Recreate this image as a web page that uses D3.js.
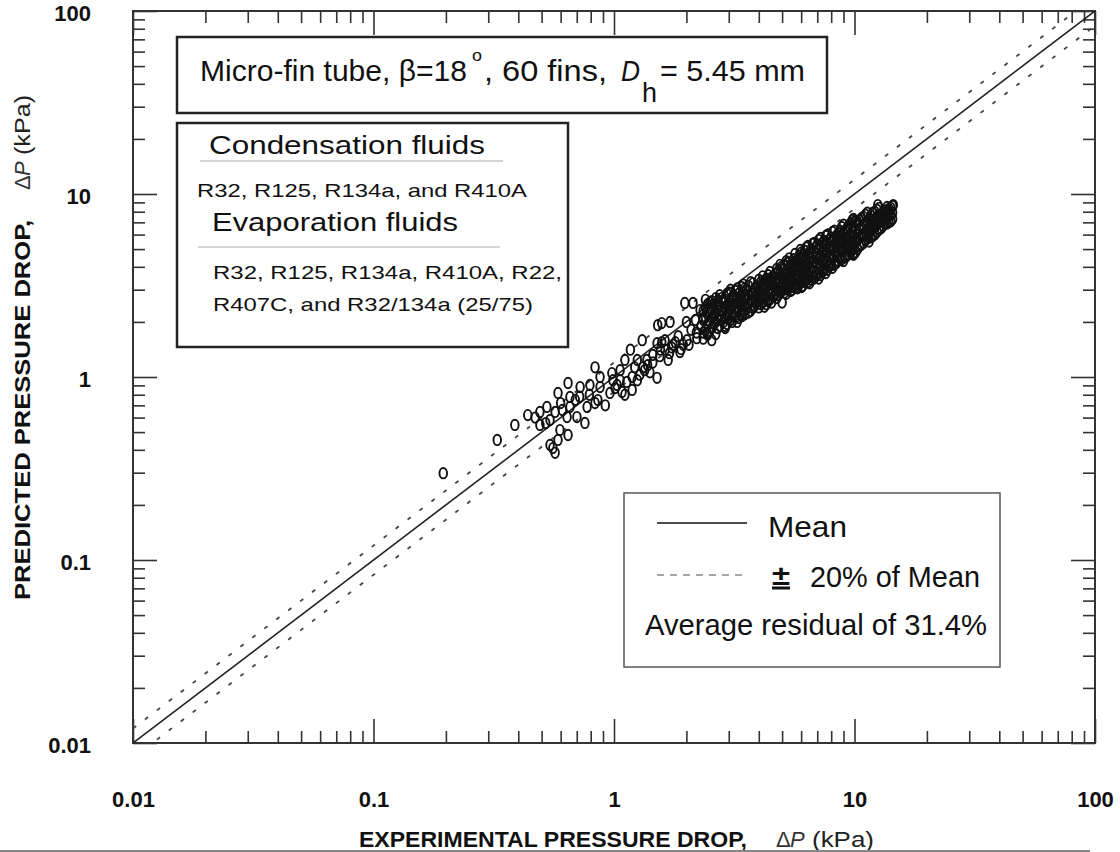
<!DOCTYPE html>
<html>
<head>
<meta charset="utf-8">
<script src="https://cdn.jsdelivr.net/npm/d3@7"></script>
<style>
  body { margin: 0; background: #fff; }
  svg { display: block; font-family: "Liberation Sans", Arial, Helvetica, sans-serif; }
</style>
</head>
<body>
<div id="chart"></div>
<script>
// axis values
const decadeTicks = [0.01, 0.1, 1, 10, 100];
const decadeLabels = ['0.01', '0.1', '1', '10', '100'];

// mean line and +/- 20% band
const meanLine = [[0.01, 0.01], [100, 100]];
const upperLine = [[0.01, 0.012], [100, 120]];
const lowerLine = [[0.01, 0.0083], [100, 83]];

// scattered points (experimental, predicted), kPa
const sparsePoints = [
  [0.195, 0.298], [0.327, 0.453], [0.387, 0.547], [0.438, 0.619], [0.492, 0.644], [0.526, 0.686],
  [0.569, 0.644], [0.492, 0.547], [0.542, 0.582], [0.585, 0.818], [0.644, 0.927], [0.656, 0.778],
  [0.656, 0.686], [0.723, 0.881], [0.794, 0.904], [0.875, 0.881], [0.834, 1.13], [0.638, 0.604],
  [0.701, 0.604], [0.757, 0.561], [0.773, 0.686], [0.834, 0.721], [0.857, 0.748], [0.596, 0.513],
  [0.644, 0.482], [0.542, 0.425], [0.569, 0.385], [0.585, 0.453], [0.557, 0.409], [0.962, 0.818],
  [1.03, 0.904], [1.08, 0.828], [1.13, 0.94], [1.19, 1.0], [1.28, 1.03], [1.32, 1.13],
  [1.17, 1.41], [1.31, 1.59], [1.51, 1.53], [1.52, 1.92], [1.71, 2.0], [1.58, 1.97],
  [1.51, 0.99], [1.41, 1.06], [1.37, 1.24], [1.63, 1.41], [1.68, 1.24], [1.88, 1.37],
  [1.76, 1.5], [1.58, 1.55], [2.01, 1.59], [2.21, 1.63], [2.13, 2.54], [1.97, 2.54],
  [2.28, 2.32], [2.44, 1.74], [2.55, 1.59], [2.9, 1.85], [1.25, 1.24], [1.11, 1.24],
  [1.06, 1.09], [0.99, 0.96], [1.01, 0.87], [1.06, 0.96], [1.11, 0.8], [1.19, 0.85],
  [1.25, 0.96], [1.34, 1.09], [1.45, 1.32], [1.56, 1.41], [1.63, 1.59], [1.74, 1.45],
  [1.85, 1.67], [1.94, 1.5], [2.09, 1.81], [2.18, 2.05], [2.34, 2.1], [2.4, 2.64],
  [0.875, 1.0], [0.79, 0.8], [0.92, 0.7], [0.69, 0.75], [0.61, 0.66], [5.0, 2.55],
  [12.5, 8.7], [14.5, 8.7], [9.8, 7.2], [9.9, 4.76],
  [1.45, 1.2], [1.55, 1.3], [1.7, 1.35], [1.8, 1.55], [1.9, 1.42], [2.05, 1.5],
  [2.2, 1.75], [2.3, 1.9], [2.0, 2.0], [1.22, 1.13], [1.38, 1.16], [0.98, 1.05],
  [0.72, 0.78], [0.6, 0.72], [0.47, 0.6], [0.52, 0.56]
];

// dense band: experimental values and the predicted values read at each of them
const bandExp = [2.35, 2.45, 2.55, 2.65, 2.75, 2.85, 2.95, 3.05, 3.15, 3.25, 3.35, 3.45, 3.55, 3.7,
  3.85, 4.0, 4.15, 4.3, 4.45, 4.6, 4.75, 4.9, 5.05, 5.2, 5.35, 5.5, 5.65, 5.8, 5.95, 6.1, 6.3,
  6.5, 6.7, 6.9, 7.1, 7.35, 7.6, 7.85, 8.1, 8.4, 8.7, 9.0, 9.3, 9.6, 9.9, 10.3, 10.7, 11.1,
  11.5, 11.9, 12.4, 12.9, 13.4, 13.9, 14.4];
const bandPred = [
  [1.62, 1.75, 2.05, 2.3], [1.7, 1.95, 2.2, 2.5], [1.85, 2.1, 2.35, 2.6], [1.72, 2.0, 2.25, 2.7],
  [1.9, 2.15, 2.45, 2.8], [2.0, 2.3, 2.55], [1.95, 2.2, 2.45, 2.85], [2.05, 2.35, 2.6, 3.0],
  [2.15, 2.5, 2.8], [2.0, 2.3, 2.65, 3.05], [2.2, 2.45, 2.75], [2.25, 2.55, 2.9, 3.2],
  [2.35, 2.7, 3.0], [2.3, 2.6, 2.85, 3.3], [2.45, 2.75, 3.05], [2.4, 2.65, 2.95, 3.4],
  [2.55, 2.85, 3.2, 3.55], [2.5, 2.8, 3.1, 3.45], [2.65, 3.0, 3.35, 3.75], [2.75, 3.15, 3.5],
  [2.7, 3.05, 3.4, 3.9], [2.9, 3.3, 3.7, 4.1], [3.0, 3.45, 3.85], [2.85, 3.2, 3.6, 4.3],
  [3.1, 3.5, 3.95, 4.45], [3.0, 3.35, 3.8, 4.2], [3.2, 3.65, 4.05, 4.7], [3.05, 3.45, 3.9, 4.4],
  [3.3, 3.75, 4.2, 4.95], [3.15, 3.6, 4.1, 4.6], [3.4, 3.9, 4.4, 5.1], [3.25, 3.7, 4.25, 4.8],
  [3.5, 4.0, 4.55, 5.35], [3.6, 4.15, 4.7, 5.1], [3.45, 3.9, 4.4, 5.0, 5.6], [3.75, 4.3, 4.85, 5.4],
  [3.7, 4.1, 4.6, 5.2, 5.9], [4.0, 4.5, 5.0, 5.6], [3.95, 4.4, 4.95, 5.5, 6.2], [4.2, 4.75, 5.3, 5.9],
  [4.45, 5.0, 5.6, 6.3], [4.3, 4.9, 5.45, 6.1, 6.8], [4.6, 5.2, 5.8, 6.5], [4.8, 5.4, 6.0, 6.9],
  [4.65, 5.3, 5.9, 6.6, 7.3], [5.0, 5.6, 6.2, 7.0], [5.3, 5.9, 6.5, 7.4], [5.6, 6.2, 6.9, 7.7],
  [5.5, 6.0, 6.6, 7.3], [5.9, 6.5, 7.1, 7.9], [6.2, 6.8, 7.5, 8.2], [6.5, 7.1, 7.7],
  [6.9, 7.5, 8.1], [7.0, 7.6, 8.3], [7.3, 7.9, 8.6]
];
// second pass through the band, between the columns above
const bandExp2 = [2.4, 2.5, 2.6, 2.7, 2.8, 2.9, 3.0, 3.1, 3.2, 3.3, 3.4, 3.5, 3.62, 3.78, 3.92,
  4.08, 4.22, 4.38, 4.52, 4.68, 4.82, 4.98, 5.12, 5.28, 5.42, 5.58, 5.72, 5.88, 6.02, 6.2, 6.4,
  6.6, 6.8, 7.0, 7.22, 7.48, 7.72, 7.98, 8.25, 8.55, 8.85, 9.15, 9.45, 9.75, 10.1, 10.5, 10.9,
  11.3, 11.7, 12.15, 12.65, 13.15, 13.65, 14.15];
const bandPred2 = [
  [1.8, 2.12, 2.4], [1.78, 2.02, 2.28, 2.55], [1.95, 2.2, 2.5], [1.85, 2.08, 2.38, 2.62],
  [2.05, 2.3, 2.7], [1.9, 2.12, 2.4, 2.65], [2.1, 2.28, 2.52, 2.9], [2.0, 2.22, 2.45, 2.72],
  [2.12, 2.4, 2.6, 2.95], [2.1, 2.38, 2.55, 2.85], [2.15, 2.35, 2.65, 3.1], [2.2, 2.45, 2.8, 3.05],
  [2.25, 2.5, 2.78, 3.15], [2.38, 2.65, 2.95, 3.25], [2.55, 2.85, 3.15], [2.5, 2.78, 3.05, 3.3],
  [2.42, 2.7, 2.98, 3.35], [2.6, 2.92, 3.25, 3.6], [2.55, 2.85, 3.2, 3.5], [2.85, 3.1, 3.3, 3.65],
  [2.8, 3.2, 3.5, 3.8], [2.95, 3.2, 3.6, 4.0], [2.9, 3.3, 3.65, 4.1], [3.0, 3.4, 3.75, 4.2],
  [2.95, 3.25, 3.7, 4.1], [3.1, 3.5, 3.9, 4.4], [3.1, 3.4, 3.85, 4.3], [3.2, 3.6, 4.05, 4.6],
  [3.1, 3.5, 3.95, 4.45, 4.8], [3.3, 3.75, 4.25, 4.9], [3.3, 3.65, 4.1, 4.6, 5.2],
  [3.4, 3.85, 4.4, 5.0], [3.45, 3.8, 4.3, 4.85, 5.4], [3.6, 4.05, 4.55, 5.3],
  [3.6, 4.1, 4.6, 5.2, 5.75], [3.85, 4.35, 4.95, 5.55], [3.85, 4.3, 4.8, 5.4, 6.0],
  [4.1, 4.6, 5.15, 5.8], [4.1, 4.55, 5.1, 5.7, 6.3], [4.3, 4.9, 5.5, 6.1],
  [4.4, 4.9, 5.3, 5.9, 6.6], [4.5, 5.05, 5.65, 6.3], [4.7, 5.3, 5.9, 6.7], [4.9, 5.5, 6.2, 7.0],
  [4.8, 5.4, 5.75, 6.4, 7.1], [5.2, 5.8, 6.4, 7.2], [5.4, 6.0, 6.7, 7.5], [5.7, 6.4, 7.0, 7.9],
  [5.8, 6.3, 6.9, 7.6], [6.0, 6.6, 7.3, 8.0], [6.4, 7.0, 7.6, 8.4], [6.7, 7.3, 7.9],
  [6.9, 7.4, 8.0, 8.5], [7.1, 7.7, 8.4]
];

// text blocks
const condensationFluids = ['R32, R125, R134a, and R410A'];
const evaporationFluids = ['R32, R125, R134a, R410A, R22,', 'R407C, and R32/134a (25/75)'];
const legendLabels = ['Mean', '20% of Mean', 'Average residual of 31.4%'];

// layout
const W = 1120, H = 852;
const plot = {l: 133, r: 1095, t: 11, b: 743};

const svg = d3.select('#chart').append('svg')
  .attr('width', W)
  .attr('height', H);

const x = d3.scaleLog().domain([0.01, 100]).range([plot.l, plot.r]);
const y = d3.scaleLog().domain([0.01, 100]).range([plot.b, plot.t]);

const minorTicks = x.ticks().filter(v => !decadeTicks.includes(v));

// helper for plain text pieces
function addText(g, o) {
  const t = g.append('text')
    .attr('x', o.x)
    .attr('y', o.y)
    .style('font-size', o.size + 'px')
    .style('font-weight', o.weight || 'normal')
    .style('font-style', o.italic ? 'italic' : 'normal')
    .attr('fill', o.fill || '#111')
    .text(o.text);
  if (o.len) t.attr('textLength', o.len).attr('lengthAdjust', o.adjust || 'spacingAndGlyphs');
  if (o.anchor) t.attr('text-anchor', o.anchor);
  return t;
}

// clip for lines/points
svg.append('clipPath').attr('id', 'plot-clip')
  .append('rect')
  .attr('x', plot.l).attr('y', plot.t)
  .attr('width', plot.r - plot.l).attr('height', plot.b - plot.t);

// ticks (inward on all four sides)
function tickGroup(axis, tx, ty, values, size) {
  const g = svg.append('g')
    .attr('transform', `translate(${tx},${ty})`)
    .call(axis.tickValues(values).tickSize(size).tickFormat(''));
  g.select('.domain').remove();
  g.selectAll('.tick line').attr('stroke', '#333').attr('stroke-width', 1.6);
  return g;
}
[[24, decadeTicks], [12, minorTicks]].forEach(([size, vals]) => {
  tickGroup(d3.axisTop(x), 0, plot.b, vals, size);
  tickGroup(d3.axisBottom(x), 0, plot.t, vals, size);
  tickGroup(d3.axisRight(y), plot.l, 0, vals, size);
  tickGroup(d3.axisLeft(y), plot.r, 0, vals, size);
});

// tick labels
const xLab = svg.append('g')
  .attr('transform', `translate(0,${plot.b})`)
  .call(d3.axisBottom(x).tickValues(decadeTicks).tickSize(0)
    .tickFormat((d, i) => decadeLabels[i]));
xLab.select('.domain').remove();
xLab.selectAll('text')
  .attr('y', 64).attr('dy', null)
  .style('font-size', '22px').style('font-weight', 'bold')
  .attr('font-family', '"Liberation Sans", Arial, sans-serif')
  .attr('fill', '#111');

const yLab = svg.append('g')
  .attr('transform', `translate(${plot.l},0)`)
  .call(d3.axisLeft(y).tickValues(decadeTicks).tickSize(0)
    .tickFormat((d, i) => decadeLabels[i]));
yLab.select('.domain').remove();
yLab.selectAll('text')
  .attr('x', -42).attr('dy', '0.42em')
  .style('font-size', '22px').style('font-weight', 'bold')
  .attr('font-family', '"Liberation Sans", Arial, sans-serif')
  .attr('fill', '#111');

// frame
svg.append('rect')
  .attr('x', plot.l).attr('y', plot.t)
  .attr('width', plot.r - plot.l).attr('height', plot.b - plot.t)
  .attr('fill', 'none').attr('stroke', '#333').attr('stroke-width', 2);

// lines
const line = d3.line().x(d => x(d[0])).y(d => y(d[1]));
const lines = svg.append('g').attr('clip-path', 'url(#plot-clip)');
lines.append('path').datum(meanLine).attr('d', line)
  .attr('fill', 'none').attr('stroke', '#222').attr('stroke-width', 1.6);
[upperLine, lowerLine].forEach(l => {
  lines.append('path').datum(l).attr('d', line)
    .attr('fill', 'none').attr('stroke', '#444').attr('stroke-width', 1.8)
    .attr('stroke-dasharray', '4,11');
});

// points
const bandPoints = [];
bandExp.forEach((e, i) => bandPred[i].forEach(p => bandPoints.push([e, p])));
bandExp2.forEach((e, i) => bandPred2[i].forEach(p => bandPoints.push([e, p])));
const allPoints = sparsePoints.concat(bandPoints);

svg.append('g').attr('clip-path', 'url(#plot-clip)')
  .selectAll('ellipse')
  .data(allPoints)
  .join('ellipse')
  .attr('cx', d => x(d[0]))
  .attr('cy', d => y(d[1]))
  .attr('rx', 3.8)
  .attr('ry', 5.2)
  .attr('fill', 'none')
  .attr('stroke', '#111')
  .attr('stroke-width', 1.9);

// title box
const tbox = svg.append('g');
tbox.append('rect')
  .attr('x', 177).attr('y', 37).attr('width', 650).attr('height', 76)
  .attr('fill', '#fff').attr('stroke', '#222').attr('stroke-width', 2.5);
addText(tbox, {x: 200, y: 81, text: 'Micro-fin tube, \u03b2=18', size: 30, len: 267});
addText(tbox, {x: 472, y: 61, text: 'o', size: 17, len: 10});
addText(tbox, {x: 484, y: 81, text: ', 60 fins,', size: 30, len: 123});
addText(tbox, {x: 621, y: 81, text: 'D', size: 30, italic: true, len: 19});
addText(tbox, {x: 642, y: 102, text: 'h', size: 28, len: 15});
addText(tbox, {x: 660, y: 81, text: '= 5.45 mm', size: 30, len: 145});

// fluids box
const fbox = svg.append('g');
fbox.append('rect')
  .attr('x', 177).attr('y', 123).attr('width', 391).attr('height', 224)
  .attr('fill', '#fff').attr('stroke', '#222').attr('stroke-width', 2.5);
addText(fbox, {x: 209, y: 154, text: 'Condensation fluids', size: 26, len: 276});
fbox.append('line').attr('x1', 200).attr('x2', 503).attr('y1', 161).attr('y2', 161)
  .attr('stroke', '#aaa').attr('stroke-width', 1);
condensationFluids.forEach((s, i) => {
  addText(fbox, {x: 197, y: 197 + i * 33, text: s, size: 19, len: 330});
});
addText(fbox, {x: 212, y: 231, text: 'Evaporation fluids', size: 26, len: 246});
fbox.append('line').attr('x1', 198).attr('x2', 500).attr('y1', 247).attr('y2', 247)
  .attr('stroke', '#aaa').attr('stroke-width', 1);
const evapLens = [349, 320];
evaporationFluids.forEach((s, i) => {
  addText(fbox, {x: 213, y: 279 + i * 32, text: s, size: 19, len: evapLens[i]});
});

// legend box
const lbox = svg.append('g');
lbox.append('rect')
  .attr('x', 624).attr('y', 493).attr('width', 376).attr('height', 174)
  .attr('fill', '#fff').attr('stroke', '#555').attr('stroke-width', 1.5);
lbox.append('line').attr('x1', 657).attr('x2', 747).attr('y1', 523).attr('y2', 523)
  .attr('stroke', '#111').attr('stroke-width', 1.6);
addText(lbox, {x: 768, y: 537, text: legendLabels[0], size: 30, len: 79});
lbox.append('line').attr('x1', 657).attr('x2', 747).attr('y1', 575).attr('y2', 575)
  .attr('stroke', '#888').attr('stroke-width', 1.6).attr('stroke-dasharray', '7,6');
addText(lbox, {x: 772, y: 585, text: '\u00b1', size: 28, weight: 'bold', len: 18});
lbox.append('line').attr('x1', 772).attr('x2', 790).attr('y1', 588).attr('y2', 588)
  .attr('stroke', '#111').attr('stroke-width', 3);
addText(lbox, {x: 810, y: 587, text: legendLabels[1], size: 30, len: 170});
addText(lbox, {x: 645, y: 635, text: legendLabels[2], size: 30, len: 342});

// x axis title
const xt = svg.append('g');
addText(xt, {x: 359, y: 847, text: 'EXPERIMENTAL PRESSURE DROP,', size: 22, weight: 'bold', len: 388});
addText(xt, {x: 776, y: 847, text: '\u0394', size: 22, fill: '#333'});
addText(xt, {x: 790, y: 847, text: 'P', size: 22, italic: true, fill: '#333'});
addText(xt, {x: 812, y: 847, text: '(kPa)', size: 22, len: 62, fill: '#222'});

// y axis title
const yt = svg.append('g').attr('transform', 'translate(30,600) rotate(-90)');
addText(yt, {x: 0, y: 0, text: 'PREDICTED PRESSURE DROP,', size: 22, weight: 'bold', len: 380});
addText(yt, {x: 410, y: 0, text: '\u0394', size: 22, fill: '#333'});
addText(yt, {x: 424, y: 0, text: 'P', size: 22, italic: true, fill: '#333'});
addText(yt, {x: 445, y: 0, text: '(kPa)', size: 22, len: 60, fill: '#222'});

// bottom rule
svg.append('line').attr('x1', 0).attr('x2', 1090).attr('y1', 851).attr('y2', 851)
  .attr('stroke', '#888').attr('stroke-width', 2);
</script>
</body>
</html>
